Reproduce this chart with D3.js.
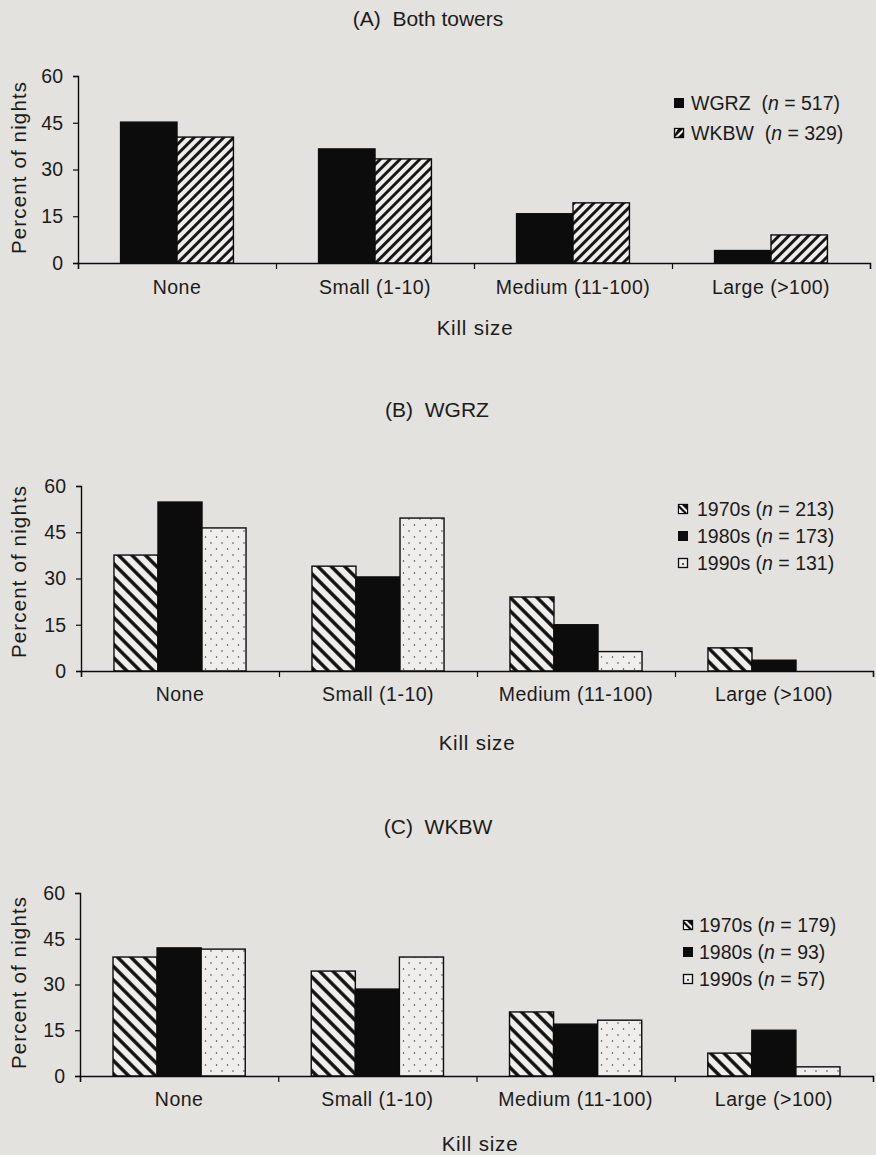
<!DOCTYPE html>
<html>
<head>
<meta charset="utf-8">
<script src="https://cdn.jsdelivr.net/npm/d3@7"></script>
<style>
    html, body { margin: 0; padding: 0; background: #e4e2de; }
    svg { display: block; font-family: "Liberation Sans", Arial, sans-serif; }
</style>
</head>
<body>
<div id="chart"></div>
<script>
//Datos
const categories = ['None', 'Small (1-10)', 'Medium (11-100)', 'Large (>100)'];
const yTicks = [0, 15, 30, 45, 60];

//(A) Ambas torres
const towers = ['WGRZ', 'WKBW'];
const towersN = [517, 329];
const bothWGRZ = [45.2, 36.6, 15.8, 4.0];
const bothWKBW = [40.4, 33.4, 19.3, 9.0];

//(B) WGRZ por décadas
const decades = ['1970s', '1980s', '1990s'];
const wgrzN = [213, 173, 131];
const wgrz1970 = [37.6, 34.0, 24.0, 7.5];
const wgrz1980 = [54.8, 30.5, 15.0, 3.5];
const wgrz1990 = [46.4, 49.6, 6.3, 0];

//(C) WKBW por décadas
const wkbwN = [179, 93, 57];
const wkbw1970 = [39.0, 34.4, 21.0, 7.5];
const wkbw1980 = [42.0, 28.5, 17.0, 15.0];
const wkbw1990 = [41.6, 39.0, 18.3, 3.0];

//Colores
const BG = '#e4e2de', LIGHT = '#efeeec', INK = '#0c0c0c', TEXT = '#1b1b1b';

const svg = d3.select('#chart').append('svg')
    .attr('width', 876)
    .attr('height', 1155);

svg.append('rect').attr('width', 876).attr('height', 1155).attr('fill', BG);

//Tramas
const defs = svg.append('defs');

function hatch(id, size, sw, angle) {
    let p = defs.append('pattern')
        .attr('id', id)
        .attr('patternUnits', 'userSpaceOnUse')
        .attr('width', size).attr('height', size)
        .attr('patternTransform', 'rotate(' + angle + ')');
    p.append('rect').attr('width', size).attr('height', size).attr('fill', LIGHT);
    p.append('line')
        .attr('x1', size / 2).attr('x2', size / 2)
        .attr('y1', 0).attr('y2', size)
        .attr('stroke', INK).attr('stroke-width', sw);
}
hatch('hatchFwd', 7, 2.8, 45);
hatch('hatchBack', 9.5, 3.4, -45);

let dots = defs.append('pattern')
    .attr('id', 'dots')
    .attr('patternUnits', 'userSpaceOnUse')
    .attr('width', 11).attr('height', 12);
dots.append('rect').attr('width', 11).attr('height', 12).attr('fill', LIGHT);
dots.append('circle').attr('cx', 2).attr('cy', 3).attr('r', 0.75).attr('fill', '#333');
dots.append('circle').attr('cx', 7.5).attr('cy', 9).attr('r', 0.75).attr('fill', '#333');

const FILLS = { black: INK, fwd: 'url(#hatchFwd)', back: 'url(#hatchBack)', dots: 'url(#dots)' };

function drawPanel(cfg) {
    let g = svg.append('g');

    let y = d3.scaleLinear().domain([0, 60]).range([cfg.bottom, cfg.top]);
    let xEdge = d3.scaleLinear().domain([0, categories.length]).range([cfg.left, cfg.right]);
    let x0 = d3.scaleBand().domain(categories).range([cfg.left, cfg.right])
        .paddingInner(cfg.pad).paddingOuter(cfg.pad / 2);
    let x1 = d3.scaleBand().domain(cfg.series.map(s => s.name)).range([0, x0.bandwidth()]);

    //Título
    g.append('text')
        .attr('x', cfg.titleX).attr('y', cfg.titleY)
        .attr('text-anchor', 'middle')
        .attr('font-size', 21).attr('fill', TEXT)
        .attr('xml:space', 'preserve')
        .text(cfg.title);

    //Barras
    cfg.series.forEach(function(s) {
        g.append('g').selectAll('rect')
            .data(s.values.map((v, i) => ({ cat: categories[i], v: v })))
            .enter()
            .append('rect')
                .attr('x', d => x0(d.cat) + x1(s.name))
                .attr('y', d => y(d.v))
                .attr('width', x1.bandwidth())
                .attr('height', d => y(0) - y(d.v))
                .attr('fill', FILLS[s.fill])
                .attr('stroke', INK)
                .attr('stroke-width', d => d.v > 0 ? 1.4 : 0);
    });

    //Eje Y
    let yAxis = g.append('g')
        .attr('transform', 'translate(' + cfg.left + ',0)')
        .call(d3.axisLeft(y).tickValues(yTicks).tickSize(5).tickPadding(10));
    yAxis.select('.domain').attr('stroke', INK).attr('stroke-width', 1.4);
    yAxis.selectAll('.tick line').attr('stroke', INK).attr('stroke-width', 1.2);
    yAxis.selectAll('.tick text').attr('font-size', 19.5).attr('fill', TEXT).attr('font-family', null);

    //Eje X (marcas en los límites de categoría)
    let xAxis = g.append('g')
        .attr('transform', 'translate(0,' + cfg.bottom + ')')
        .call(d3.axisBottom(xEdge).tickValues(d3.range(categories.length + 1)).tickSize(6).tickFormat(''));
    xAxis.select('.domain').attr('stroke', INK).attr('stroke-width', 1.4);
    xAxis.selectAll('.tick line').attr('stroke', INK).attr('stroke-width', 1.2);

    let xLabels = g.append('g')
        .attr('transform', 'translate(0,' + cfg.bottom + ')')
        .call(d3.axisBottom(x0).tickSize(0).tickPadding(cfg.catPad));
    xLabels.select('.domain').remove();
    xLabels.selectAll('.tick text').attr('font-size', 19.5).attr('fill', TEXT).attr('font-family', null)
        .attr('letter-spacing', 0.5);

    //Títulos de ejes
    g.append('text')
        .attr('x', cfg.killX).attr('y', cfg.killY)
        .attr('text-anchor', 'middle')
        .attr('font-size', 20.5).attr('fill', TEXT)
        .attr('letter-spacing', 0.8)
        .text('Kill size');

    g.append('text')
        .attr('transform', 'rotate(-90)')
        .attr('x', -cfg.yLabelY).attr('y', 26)
        .attr('text-anchor', 'middle')
        .attr('font-size', 20.5).attr('fill', TEXT)
        .attr('textLength', 172).attr('lengthAdjust', 'spacing')
        .text('Percent of nights');

    //Leyenda
    let leg = g.append('g').attr('transform', 'translate(' + cfg.legX + ',' + cfg.legY + ')');
    cfg.series.forEach(function(s, i) {
        let row = leg.append('g').attr('transform', 'translate(0,' + (i * cfg.legStep) + ')');
        if (s.fill === 'black') {
            row.append('rect').attr('x', 0).attr('y', -5).attr('width', 10).attr('height', 10).attr('fill', INK);
        } else if (s.fill === 'fwd') {
            row.append('rect').attr('x', 0.5).attr('y', -4.5).attr('width', 9).attr('height', 9)
                .attr('fill', LIGHT).attr('stroke', INK).attr('stroke-width', 1.3);
            row.append('path').attr('d', 'M1,4 L1,1 L4,-4 L9,-4 Z M9,4 L4,4 L9,-1 Z').attr('fill', INK);
        } else if (s.fill === 'back') {
            row.append('rect').attr('x', 0.5).attr('y', -4.5).attr('width', 9).attr('height', 9)
                .attr('fill', INK).attr('stroke', INK).attr('stroke-width', 1.3);
            row.append('path').attr('d', 'M1,-4 L4,-4 L9,1 L9,4 Z').attr('fill', LIGHT);
            row.append('path').attr('d', 'M1,-1 L6,4 L1,4 Z').attr('fill', LIGHT);
        } else {
            row.append('rect').attr('x', 0.5).attr('y', -4.5).attr('width', 9).attr('height', 9)
                .attr('fill', LIGHT).attr('stroke', INK).attr('stroke-width', 1.3);
            row.append('circle').attr('cx', 5).attr('cy', 1).attr('r', 0.9).attr('fill', INK);
        }
        let t = row.append('text')
            .attr('x', cfg.legTextX).attr('y', 6.5)
            .attr('font-size', 19.5).attr('fill', TEXT)
            .attr('xml:space', 'preserve');
        t.append('tspan').text(s.name + cfg.legGap + '(');
        t.append('tspan').attr('font-style', 'italic').text('n');
        t.append('tspan').text(' = ' + s.n + ')');
    });
}

drawPanel({
    title: '(A)  Both towers', titleX: 428, titleY: 26,
    left: 78, right: 870, top: 76, bottom: 263, pad: 0.43, catPad: 17,
    killX: 475, killY: 335, yLabelY: 168,
    legX: 674, legY: 103, legStep: 30, legTextX: 17, legGap: '  ',
    series: [
        { name: towers[0], n: towersN[0], values: bothWGRZ, fill: 'black' },
        { name: towers[1], n: towersN[1], values: bothWKBW, fill: 'fwd' }
    ]
});

drawPanel({
    title: '(B)  WGRZ', titleX: 437, titleY: 417,
    left: 81, right: 873, top: 486, bottom: 671, pad: 0.333, catPad: 16,
    killX: 477, killY: 750, yLabelY: 572,
    legX: 678, legY: 509, legStep: 27, legTextX: 19, legGap: ' ',
    series: [
        { name: decades[0], n: wgrzN[0], values: wgrz1970, fill: 'back' },
        { name: decades[1], n: wgrzN[1], values: wgrz1980, fill: 'black' },
        { name: decades[2], n: wgrzN[2], values: wgrz1990, fill: 'dots' }
    ]
});

drawPanel({
    title: '(C)  WKBW', titleX: 438, titleY: 834,
    left: 80, right: 873, top: 893, bottom: 1076, pad: 0.333, catPad: 16,
    killX: 480, killY: 1151, yLabelY: 983,
    legX: 683, legY: 925, legStep: 27, legTextX: 16, legGap: ' ',
    series: [
        { name: decades[0], n: wkbwN[0], values: wkbw1970, fill: 'back' },
        { name: decades[1], n: wkbwN[1], values: wkbw1980, fill: 'black' },
        { name: decades[2], n: wkbwN[2], values: wkbw1990, fill: 'dots' }
    ]
});
</script>
</body>
</html>
